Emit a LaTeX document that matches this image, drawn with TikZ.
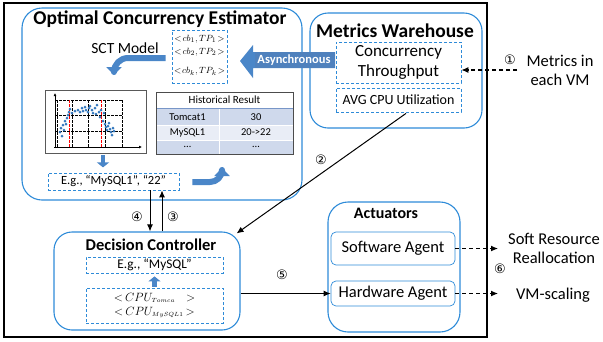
\documentclass[tikz,border=0pt]{standalone}
\usepackage{fontspec}
\setmainfont{Carlito}
\newfontfamily\circfont{DejaVu Sans}
\usetikzlibrary{arrows.meta,calc}
\definecolor{boxblue}{RGB}{46,139,216}
\definecolor{arrblue}{RGB}{74,134,200}
\definecolor{asyncblue}{RGB}{79,129,189}
\definecolor{rowA}{RGB}{207,217,236}
\definecolor{rowB}{RGB}{233,237,246}
\definecolor{tabline}{RGB}{120,150,200}
\definecolor{dotblue}{RGB}{52,120,190}
\begin{document}
\begin{tikzpicture}[x=1pt,y=-1pt,
  rbox/.style={draw=boxblue,line width=1.1pt,rounded corners=18pt,inner sep=0pt},
  dbox/.style={draw=boxblue,line width=0.8pt,dash pattern=on 3pt off 2pt,inner sep=0pt,align=center},
  abox/.style={draw=boxblue,line width=0.7pt,rounded corners=5pt,inner sep=0pt,align=center},
  ttl/.style={font=\bfseries\fontsize{19.5}{22}\selectfont,inner sep=0pt},
  body/.style={font=\fontsize{16.5}{19}\selectfont,inner sep=0pt,align=center},
  circ/.style={font=\circfont\fontsize{13}{14}\selectfont,inner sep=0pt},
  bigarrow/.style={draw=arrblue,line width=6pt,-{Triangle[length=8pt,width=15pt]}},
  smallarrow/.style={draw=arrblue,line width=4.5pt,-{Triangle[length=5pt,width=12pt]}},
  conn/.style={draw=black,line width=1pt,-{Latex[length=7pt,width=6pt]}},
  dconn/.style={draw=black,line width=1.1pt,dash pattern=on 4pt off 3pt,-{Latex[length=7pt,width=6pt]}},
  cell/.style={font=\fontsize{10.5}{13}\selectfont,inner sep=0pt},
  cbtxt/.style={inner sep=0pt,font=\fontsize{9.5}{11}\selectfont}
]
\useasboundingbox (0,0) rectangle (603,341);
\draw[line width=1.1pt] (4,3) rectangle (487,337);

% Optimal Concurrency Estimator
\node[rbox,minimum width=280pt,minimum height=192pt,rounded corners=20pt] (oce) at (162,104) {};
\node[ttl] (ocet) at (160,19) {Optimal Concurrency Estimator};
\node[body,font=\fontsize{15.5}{18}\selectfont] (sct) at (125,48) {SCT Model};
\node[dbox,minimum width=55pt,minimum height=53pt] (cb) at (199.5,56.5) {};
\node[cbtxt] (cb1) at (199.5,39) {$<\!cb_1,TP_1\!>$};
\node[cbtxt] (cb2) at (199.5,52) {$<\!cb_2,TP_2\!>$};
\node[cbtxt] (cbk) at (199.5,71) {$<\!cb_k,TP_k\!>$};

% plot
\node[draw=black!65,line width=0.8pt,minimum width=101pt,minimum height=63pt,inner sep=0pt] (plot) at (95.5,121.5) {};
\begin{scope}
\draw[black,line width=0.5pt,dash pattern=on 2.5pt off 1.5pt] (55,100) -- (122,100) (55,115) -- (122,115) (55,131) -- (122,131);
\draw[black,line width=0.5pt,dash pattern=on 2.5pt off 1.5pt] (57,100) -- (57,147) (72,100) -- (72,147) (88,100) -- (88,147) (105,100) -- (105,147) (122,100) -- (122,147);
\draw[red,line width=0.6pt,dash pattern=on 2.5pt off 1.5pt] (69,100) -- (69,147) (101,100) -- (101,147);
\draw[black,line width=0.6pt,-{Latex[length=3pt,width=3pt]}] (55,148) -- (55,93);
\draw[black,line width=0.6pt,-{Latex[length=3pt,width=3pt]}] (54,147) -- (142,147);
\foreach \px/\py in {60/132,61/128,63/125,64/130,65/121,66/124,67/118,68/115,69/112,72/113,75/111,78/110,80/112,82/108,83/111,85/107,86/110,88/112,89/108,90/106,92/110,93/113,95/108,97/105,99/112,100/117,101/110,103/121,104/113,105/124,106/127,107/130,108/126,109/123,110/129,111/132,113/128,114/131,112/135,62/136,70/109,96/114}
  \fill[dotblue] (\px,\py) circle (1.5pt);
\end{scope}

% Historical table
\coordinate (tnw) at (156,92);
\coordinate (tse) at (293,154);
\fill[white] (156,92) rectangle (293,108);
\fill[rowA] (156,108) rectangle (293,125);
\fill[rowB] (156,125) rectangle (293,140);
\fill[rowA] (156,140) rectangle (293,154);
\draw[white,line width=0.8pt] (156,125) -- (293,125) (156,140) -- (293,140) (219,108) -- (219,154);
\draw[tabline,line width=1pt] (156,108) -- (293,108);
\draw[black!70,line width=0.8pt] (tnw) rectangle (tse);
\node[cell,font=\fontsize{11}{13}\selectfont] (th) at (224.5,100) {Historical Result};
\node[cell] (t11) at (187.5,117) {Tomcat1};
\node[cell] (t12) at (256,117) {30};
\node[cell] (t21) at (187.5,132.5) {MySQL1};
\node[cell] (t22) at (256,132.5) {20->22};
\node[cell] (t31) at (187.5,147) {…};
\node[cell] (t32) at (256,147) {…};

\node[dbox,minimum width=131pt,minimum height=17pt,font=\fontsize{12.5}{15}\selectfont] (eg1) at (113.5,181.5) {E.g., “MySQL1”, “22”};

% blue arrows inside OCE
\draw[bigarrow,line join=round] ($(cb.west)+(-6,1.5)$) -- (128,58) to[out=180,in=90] (114,72) -- (114,75);
\draw[smallarrow] ($(plot.south)+(7.5,2)$) -- ($(plot.south)+(7.5,14)$);
\draw[bigarrow,line join=round] ($(eg1.east)+(13,0.5)$) -- (210,182) to[out=0,in=270] (222,170) -- (222,168);

% Metrics Warehouse
\node[rbox,minimum width=172pt,minimum height=115pt] (mw) at (396,70.5) {};
\node[ttl] (mwt) at (395,31) {Metrics Warehouse};
\node[dbox,minimum width=125pt,minimum height=41pt,body,font=\fontsize{17}{20}\selectfont] (ct) at (398.5,62.5) {Concurrency\\Throughput};
\node[dbox,minimum width=125pt,minimum height=24pt,font=\fontsize{14}{16}\selectfont] (avg) at (398.5,100) {AVG CPU Utilization};

% Asynchronous arrow
\fill[arrblue] (240,61) -- (253,45) -- (253,52) -- (335,52) -- (335,68) -- (253,68) -- (253,78) -- cycle;
\fill[asyncblue] (255,52) rectangle (335,68);
\node[inner sep=0pt,text=white,font=\bfseries\fontsize{12.5}{14}\selectfont] (async) at (294,60) {Asynchronous};

% metrics in each VM
\node[body] (mvm) at (560,70) {Metrics in\\each VM};
\node[circ] (c1) at (510,60) {①};
\coordinate (m1) at (517,70);
\draw[dconn] (m1) -- (m1 -| ct.east);

% Decision Controller
\node[rbox,minimum width=186pt,minimum height=98pt] (dc) at (147,281) {};
\node[ttl,font=\bfseries\fontsize{16.5}{19}\selectfont] (dct) at (151,245) {Decision Controller};
\node[dbox,minimum width=137pt,minimum height=16pt,font=\fontsize{13.3}{15}\selectfont] (eg2) at (154.5,265) {E.g., “MySQL”};
\node[dbox,minimum width=137pt,minimum height=35pt,font=\fontsize{13}{15}\selectfont] (cpu) at (154.5,305.5) {$<$\,$CPU_{\scriptscriptstyle Tomca}$\hspace{11pt}$>$\\[-1pt]$<$\,$CPU_{\scriptscriptstyle MySQL1}$\,$>$};
\draw[smallarrow] ($(cpu.north)+(0,-1)$) -- ($(eg2.south)+(0,3)$);

% arrows 3/4
\coordinate (x4) at (150,0);
\coordinate (x3) at (162,0);
\draw[conn] (eg1.south -| x4) -- (dc.north -| x4);
\draw[conn] (dc.north -| x3) -- (eg1.south -| x3);
\node[circ] (c4) at (137,217) {④};
\node[circ] (c3) at (173,217) {③};

% arrow 2
\draw[conn] ($(avg.south)+(7.5,1)$) -- ($(dc.north east)+(-4,2)$);
\node[circ] (c2) at (321,160) {②};

% Actuators
\node[rbox,minimum width=132pt,minimum height=130pt,rounded corners=20pt] (act) at (394,267) {};
\node[ttl,font=\bfseries\fontsize{16}{18}\selectfont] (actt) at (386,213) {Actuators};
\node[abox,minimum width=124pt,minimum height=33pt,body] (sw) at (393,248.5) {Software Agent};
\node[abox,minimum width=124pt,minimum height=25pt,body] (hw) at (393,293.5) {Hardware Agent};

% arrow 5
\draw[conn] (dc.east |- hw.west) -- (hw.west);
\node[circ] (c5) at (282,275) {⑤};

% outputs
\node[body] (srr) at (554,248) {Soft Resource\\Reallocation};
\node[body] (vms) at (553,295) {VM-scaling};
\coordinate (o1) at (498,0);
\draw[dconn] (sw.east) -- (sw.east -| o1);
\draw[dconn] (hw.east) -- (hw.east -| o1);
\node[circ] (c6) at (500,269) {⑥};
\end{tikzpicture}
\end{document}
